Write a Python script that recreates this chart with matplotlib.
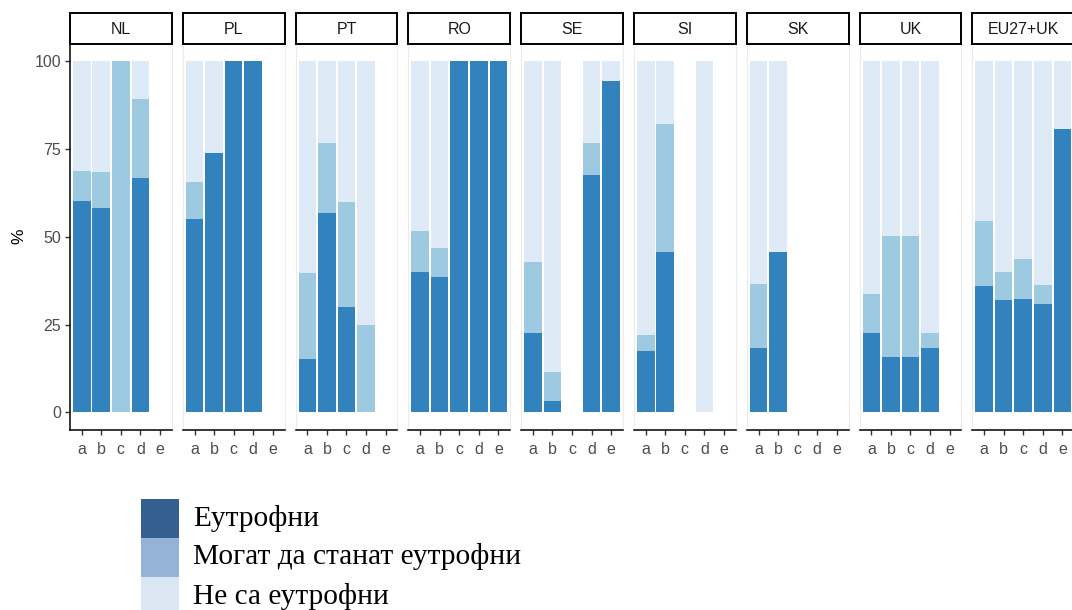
import numpy as np
import matplotlib
matplotlib.use("Agg")
import matplotlib.pyplot as plt
from matplotlib.patches import Rectangle

# ----------------------------
# DATA (percent of water bodies per category)
# ----------------------------
countries = ["NL", "PL", "PT", "RO", "SE", "SI", "SK", "UK", "EU27+UK"]
categories = ["a", "b", "c", "d", "e"]

# None = no bar for that category
eutrophic = [
    [60.2, 58.1, 0.0, 66.8, None],
    [55.0, 73.9, 100.0, 100.0, None],
    [15.2, 56.7, 30.1, 0.0, None],
    [40.1, 38.6, 100.0, 100.0, 100.0],
    [22.5, 3.2, None, 67.7, 94.4],
    [17.5, 45.7, None, 0.0, None],
    [18.2, 45.7, None, None, None],
    [22.5, 15.7, 15.7, 18.3, None],
    [35.9, 32.0, 32.2, 31.0, 80.8],
]
may_become = [
    [8.5, 10.2, 100.0, 22.3, None],
    [10.5, 0.0, 0.0, 0.0, None],
    [24.6, 20.1, 29.9, 25.0, None],
    [11.5, 8.1, 0.0, 0.0, 0.0],
    [20.2, 8.2, None, 9.1, 0.0],
    [4.6, 36.3, None, 0.0, None],
    [18.4, 0.0, None, None, None],
    [11.2, 34.4, 34.4, 4.4, None],
    [18.7, 8.0, 11.6, 5.3, 0.0],
]

legend_labels = ["Еутрофни", "Могат да станат еутрофни", "Не са еутрофни"]

# ----------------------------
# STYLE
# ----------------------------
bar_colors = ["#3182BD", "#9ECAE1", "#DEEBF7"]
legend_colors = ["#365F91", "#95B3D7", "#DCE6F2"]
W, H = 1072, 610

plt.rcParams['font.family'] = ['Liberation Sans', 'DejaVu Sans']

fig = plt.figure(figsize=(W / 100, H / 100), dpi=100)

panel_left0 = 70.0
panel_step = 112.8
panel_w = 101.7
panel_top = 43.5
panel_bottom = 430.0
strip_top = 12.7

x = np.arange(1, len(categories) + 1)

for i, country in enumerate(countries):
    left = panel_left0 + i * panel_step
    ax = fig.add_axes([left / W, (H - panel_bottom) / H, panel_w / W,
                       (panel_bottom - panel_top) / H])
    ax.set_xlim(0.4, len(categories) + 0.6)
    ax.set_ylim(-5, 105)

    for j in range(len(categories)):
        d = eutrophic[i][j]
        m = may_become[i][j]
        if d is None:
            continue
        rest = 100.0 - d - m
        ax.bar(x[j], d, width=0.9, color=bar_colors[0], linewidth=0)
        ax.bar(x[j], m, bottom=d, width=0.9, color=bar_colors[1], linewidth=0)
        ax.bar(x[j], rest, bottom=d + m, width=0.9, color=bar_colors[2], linewidth=0)

    ax.set_xticks(x)
    ax.set_xticklabels(categories)
    ax.tick_params(axis='x', length=3.5, width=1.0, color='#333333',
                   labelcolor='#4D4D4D', labelsize=11.5, pad=5.5)
    for s in ["top", "right"]:
        ax.spines[s].set_color('#EBEBEB')
        ax.spines[s].set_linewidth(0.8)
    ax.spines["bottom"].set_color('black')
    ax.spines["bottom"].set_linewidth(1.1)
    if i == 0:
        ax.set_yticks([0, 25, 50, 75, 100])
        ax.tick_params(axis='y', length=3.5, width=1.0, color='#333333',
                       labelcolor='#4D4D4D', labelsize=11.5, pad=3)
        ax.spines["left"].set_color('black')
        ax.spines["left"].set_linewidth(1.1)
        ax.set_ylabel("%", fontsize=12.5, color='black', labelpad=6)
    else:
        ax.set_yticks([])
        ax.spines["left"].set_color('#EBEBEB')
        ax.spines["left"].set_linewidth(0.8)

    # facet strip
    sax = fig.add_axes([left / W, (H - panel_top) / H, panel_w / W,
                        (panel_top - strip_top) / H])
    sax.set_xticks([])
    sax.set_yticks([])
    for s in sax.spines.values():
        s.set_color('black')
        s.set_linewidth(1.4)
    sax.text(0.5, 0.47, country, ha='center', va='center', fontsize=11.5,
             color='#1A1A1A', transform=sax.transAxes)

# ----------------------------
# LEGEND (drawn manually below the panels)
# ----------------------------
row_h = 39.0
box_x, box_w = 141.0, 38.0
row_y0 = 499.0
for k, (lab, col) in enumerate(zip(legend_labels, legend_colors)):
    y_top = row_y0 + k * row_h
    fig.patches.append(Rectangle((box_x / W, (H - y_top - row_h) / H), box_w / W,
                                 row_h / H, transform=fig.transFigure,
                                 facecolor=col, edgecolor='none'))
    fig.text(193 / W, (H - y_top - row_h / 2 + 0.5) / H, lab,
             family=['Liberation Serif', 'DejaVu Serif'], fontsize=21.2,
             color='black', ha='left', va='center')

fig.savefig("out.png", dpi=100)
